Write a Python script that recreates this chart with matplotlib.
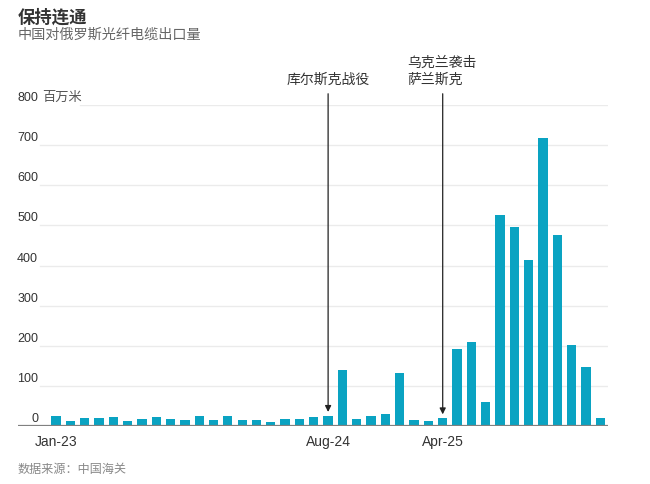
import matplotlib
matplotlib.use("Agg")
import matplotlib.pyplot as plt
import matplotlib.transforms as mtransforms
import pandas as pd

plt.rcParams['font.family'] = ['Liberation Sans', 'Noto Sans CJK SC', 'DejaVu Sans']

# monthly exports, million metres, Jan-23 .. Mar-26
months = pd.date_range("2023-01-01", periods=39, freq="MS").strftime("%b-%y").tolist()
values = [25, 12, 20, 20, 22, 12, 18, 22, 18, 16, 25, 14, 25, 14, 14, 9, 17, 18, 22, 25,
          139, 18, 25, 31, 132, 16, 12, 19, 192, 209, 59, 527, 496, 413, 717, 475, 202, 147, 19]
yticks = [0, 100, 200, 300, 400, 500, 600, 700, 800]
shown_ticks = ["Jan-23", "Aug-24", "Apr-25"]
events = [("Aug-24", "库尔斯克战役", "center"), ("Apr-25", "乌克兰袭击\n萨兰斯克", "left")]

bar_color = "#0aa3c2"
W, H = 650, 485

fig = plt.figure(figsize=(6.5, 4.85), dpi=100)
ax = fig.add_axes([18 / W, 58 / H, 590 / W, 321 / H])

x = list(range(len(values)))
ax.bar(x, values, width=0.65, color=bar_color, zorder=3)
ax.set_xlim(-2.65, 38.54)
ax.set_ylim(0, 800)
for s in ax.spines.values():
    s.set_visible(False)
ax.set_yticks([])

# gridlines and y labels
lab_off = mtransforms.offset_copy(ax.get_yaxis_transform(), fig=fig, x=0, y=2, units='dots')
for t in yticks:
    if t == 0:
        ax.axhline(0, color="#808080", lw=1.6, zorder=4)
    else:
        start = (80 - 18) / 590 if t == 800 else (40 - 18) / 590
        ax.axhline(t, xmin=start, color="#ebebeb", lw=1, zorder=1)
    ax.text(20 / 590, t, str(t), transform=lab_off, ha="right", va="bottom",
            fontsize=9, color="#333333")
ax.text(24 / 590, 800, "百万米", transform=lab_off, ha="left", va="bottom",
        fontsize=9.5, color="#555555")

# x ticks
ax.set_xticks([months.index(m) for m in shown_ticks])
ax.set_xticklabels(shown_ticks, fontsize=10, color="#333333")
ax.tick_params(axis="x", length=0, pad=6)

# event annotations
for m, label, align in events:
    i = months.index(m)
    ax.annotate("", xy=(i, values[i] + 10), xytext=(i, 828), annotation_clip=False,
                arrowprops=dict(arrowstyle="-|>", color="#222222", lw=0.9,
                                shrinkA=0, shrinkB=0, mutation_scale=9))
    if align == "center":
        ax.text(i, 866, label, ha="center", va="center", fontsize=10,
                color="#333333", clip_on=False)
    else:
        ax.text(i - 2.5, 866, label, ha="left", va="bottom", fontsize=10,
                color="#333333", clip_on=False, linespacing=1.25)
        ax.texts[-1].set_y(848)

fig.text(18 / W, 1 - 17 / H, "保持连通", fontsize=12.5, fontweight="bold",
         color="#333333", va="center", ha="left")
fig.text(18 / W, 1 - 35 / H, "中国对俄罗斯光纤电缆出口量", fontsize=10.2,
         color="#666666", va="center", ha="left")
fig.text(18 / W, 1 - 470 / H, "数据来源：中国海关", fontsize=8.7,
         color="#888888", va="center", ha="left")

fig.savefig("out.png", dpi=100, facecolor="white")
